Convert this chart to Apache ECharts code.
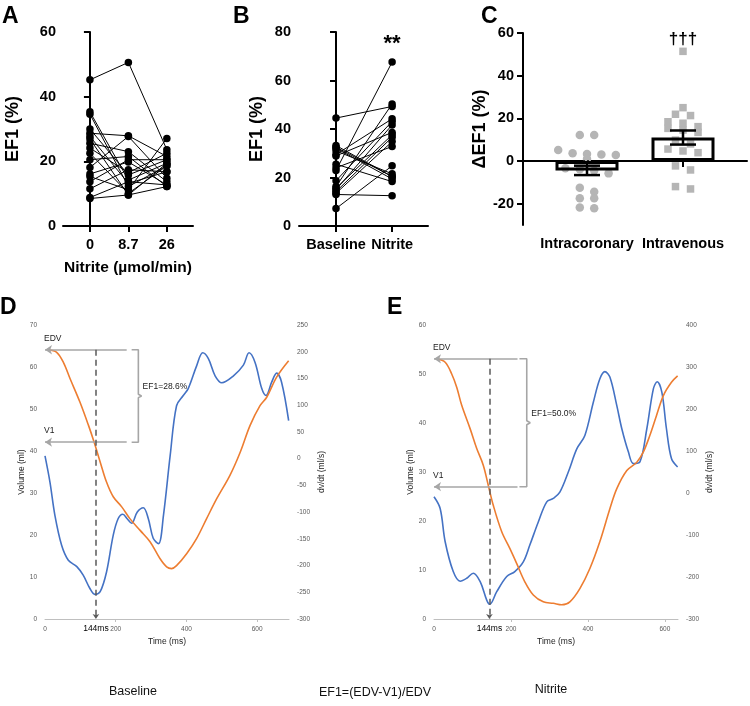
<!DOCTYPE html>
<html><head><meta charset="utf-8">
<script src="https://cdn.jsdelivr.net/npm/echarts@6/dist/echarts.min.js"></script>
<style>html,body{margin:0;padding:0;background:#fff}#c{width:750px;height:706px}</style>
</head><body><div id="c"></div>
<script>
// ---------- Panel A ----------
const doseLabels = ['0', '8.7', '26'];
const efA_dose0  = [45.2, 35.3, 34.6, 30.0, 28.7, 27.7, 26.9, 25.6, 24.1, 22.5, 20.5, 18.1, 16.1, 15.3, 13.7, 11.5, 8.8, 8.5];
const efA_dose87 = [50.6, 14.2, 12.2, 15.8, 27.9, 13.2, 9.6, 23.0, 16.5, 10.1, 21.5, 27.7, 19.8, 11.2, 20.5, 17.4, 13.7, 9.6];
const efA_dose26 = [23.6, 19.4, 18.6, 20.5, 21.5, 16.8, 19.4, 13.7, 22.5, 18.6, 12.2, 14.8, 12.7, 27.1, 20.5, 16.8, 12.7, 12.2];
// ---------- Panel B ----------
const bLabels = ['Baseline', 'Nitrite'];
const efB_base = [44.5, 33.2, 32.1, 31.0, 28.9, 25.5, 22.9, 18.7, 16.3, 15.6, 15.0, 14.2, 13.5, 13.0, 32.5, 29.5, 24.0, 7.2];
const efB_nit  = [49.3, 20.4, 19.4, 21.5, 38.6, 18.3, 67.6, 43.1, 50.3, 37.6, 41.7, 36.6, 34.8, 12.5, 20.4, 44.2, 32.8, 24.8];
const bSignif = '**';
const bSignifY = 75;
// ---------- Panel C ----------
const cLabels = ['Intracoronary', 'Intravenous'];
const dEF_ic = [12.2, 12.2, 5.2, 3.6, 3.3, 3.1, 2.8, 0.9, -3.4, -3.9, -4.5, -5.8, -12.5, -14.4, -17.5, -17.5, -21.8, -22.2];
const dEF_iv = [51.4, 25.0, 21.9, 21.3, 18.4, 17.7, 16.1, 15.3, 14.5, 13.4, 9.8, 8.0, 5.6, 4.7, 3.9, -2.3, -4.2, -12.0, -13.1];
const cMean = [-4.4, 11.0];
const cSem = [2.2, 3.3];
const cSignif = '†††';
const cSignifY = 57;
// ---------- Panel D (Baseline) ----------
const dVolume = [[9,64.1],[33,63.5],[52,61.1],[71,57.2],[99,51.6],[123,46.1],[139,42.1],[156,37.4],[174,32.6],[193,29.1],[217,26.7],[240,23.9],[269,21.1],[297,18.4],[325,14.4],[344,12.4],[358,12.0],[372,12.7],[401,15.6],[429,19.2],[457,23.9],[486,28.7],[523,34.2],[552,39.7],[580,46.1],[608,50.8],[627,52.8],[655,57.6],[689,61.5]];
const dRate = [[0,5],[14,-44],[28,-106],[47,-162],[66,-190],[90,-202],[108,-218],[127,-243],[141,-254],[156,-249],[174,-212],[193,-143],[207,-112],[220,-104],[233,-113],[245,-121],[261,-100],[278,-92],[292,-112],[306,-149],[321,-159],[335,-106],[354,6],[372,99],[391,118],[405,131],[429,174],[446,198],[462,187],[481,155],[500,142],[533,155],[561,175],[577,198],[594,180],[613,131],[625,118],[641,143],[655,160],[669,143],[689,71]];
const dAnnot = {edv: 64.1, v1: 42.1, t: 144, arrowEnd: 231, bracketT: 264, text: 'EF1=28.6%'};
// ---------- Panel E (Nitrite) ----------
const eVolume = [[7,53.1],[29,52.4],[46,50.0],[59,47.3],[72,43.6],[94,38.8],[111,34.8],[128,31.4],[141,27.3],[154,23.2],[176,17.8],[197,14.4],[215,11.3],[236,7.6],[258,4.9],[284,3.5],[310,3.2],[332,2.9],[353,3.5],[379,6.2],[405,10.3],[431,15.8],[457,22.5],[475,26.6],[501,30.3],[527,32.0],[544,34.1],[561,37.5],[578,41.5],[596,45.6],[617,48.3],[633,49.6]];
const eRate = [[0,-9],[16,-37],[29,-116],[50,-187],[68,-210],[85,-203],[102,-191],[120,-211],[137,-255],[145,-265],[163,-235],[189,-199],[210,-187],[232,-164],[249,-124],[271,-69],[293,-21],[310,-13],[327,2],[349,50],[371,105],[392,137],[414,216],[431,272],[444,289],[457,276],[475,208],[488,153],[505,98],[518,70],[535,74],[553,153],[570,248],[580,265],[592,240],[604,153],[617,82],[633,62]];
const eAnnot = {edv: 53.1, v1: 27.0, t: 144, arrowEnd: 217, bracketT: 241, text: 'EF1=50.0%'};

const FF = 'Liberation Sans';
const chart = echarts.init(document.getElementById('c'), null, {renderer: 'canvas'});

const boldAxis = (extra) => Object.assign({
  axisLine: {show: true, lineStyle: {color: '#000', width: 2}},
  axisTick: {show: true, length: 6, lineStyle: {color: '#000', width: 2}},
  axisLabel: {color: '#000', fontFamily: FF, fontWeight: 'bold', fontSize: 14.5},
  splitLine: {show: false},
  nameTextStyle: {color: '#000', fontFamily: FF, fontWeight: 'bold', fontSize: 18}
}, extra);

const thinAxisLabel = {color: '#595959', fontFamily: FF, fontSize: 6.5};

// beeswarm-like symmetric spreading by rows
function swarm(vals, center, rowH, step) {
  const idx = vals.map((v, i) => i).sort((a, b) => vals[b] - vals[a]);
  const out = [];
  let row = [];
  const flush = () => {
    const n = row.length;
    row.forEach((k, j) => out.push([center + (j - (n - 1) / 2) * step, vals[k]]));
    row = [];
  };
  idx.forEach(k => {
    if (row.length && vals[row[0]] - vals[k] > rowH) flush();
    row.push(k);
  });
  flush();
  return out;
}

const series = [];
// Panel A
for (let i = 0; i < efA_dose0.length; i++) {
  series.push({type: 'line', xAxisIndex: 0, yAxisIndex: 0,
    data: [[0, efA_dose0[i]], [1, efA_dose87[i]], [2, efA_dose26[i]]],
    symbol: 'circle', symbolSize: 7.5, itemStyle: {color: '#000'},
    lineStyle: {color: '#000', width: 1}});
}
// Panel B
for (let i = 0; i < efB_base.length; i++) {
  series.push({type: 'line', xAxisIndex: 1, yAxisIndex: 1,
    data: [[0, efB_base[i]], [1, efB_nit[i]]],
    symbol: 'circle', symbolSize: 7.5, itemStyle: {color: '#000'},
    lineStyle: {color: '#000', width: 1}});
}
series.push({type: 'scatter', xAxisIndex: 1, yAxisIndex: 1, data: [[1, bSignifY]], symbolSize: 0,
  itemStyle: {opacity: 1},
  label: {show: true, formatter: bSignif, position: 'inside', color: '#000', textBorderWidth: 0, fontFamily: FF, fontWeight: 'bold', fontSize: 22}});
// Panel C
const cCenters = [2, 5];
series.push({type: 'scatter', xAxisIndex: 2, yAxisIndex: 2, data: swarm(dEF_ic, cCenters[0], 3, 0.45),
  symbol: 'circle', symbolSize: 8.5, itemStyle: {color: '#b5b5b5', opacity: 1}, z: 2,
  markLine: {silent: true, symbol: 'none', data: [{yAxis: 0}], label: {show: false},
    lineStyle: {color: '#000', type: [2, 2], width: 1.5}}});
series.push({type: 'scatter', xAxisIndex: 2, yAxisIndex: 2, data: swarm(dEF_iv, cCenters[1], 3, 0.47),
  symbol: 'rect', symbolSize: 7.5, itemStyle: {color: '#b5b5b5', opacity: 1}, z: 2});
series.push({type: 'bar', xAxisIndex: 2, yAxisIndex: 2, data: cMean.map((m, i) => [cCenters[i], m]),
  barWidth: 63, itemStyle: {color: 'rgba(0,0,0,0)', borderColor: '#000', borderWidth: 3}, z: 3});
series.push({type: 'custom', xAxisIndex: 2, yAxisIndex: 2, z: 4,
  data: cMean.map((m, i) => [cCenters[i], m, cSem[i]]),
  renderItem: (params, api) => {
    const x = api.value(0), m = api.value(1), s = api.value(2);
    const t = api.coord([x, m + s]), b = api.coord([x, m - s]);
    const w = 13, st = {stroke: '#000', lineWidth: 2.5};
    return {type: 'group', children: [
      {type: 'line', shape: {x1: t[0], y1: t[1], x2: b[0], y2: b[1]}, style: st},
      {type: 'line', shape: {x1: t[0] - w, y1: t[1], x2: t[0] + w, y2: t[1]}, style: st},
      {type: 'line', shape: {x1: b[0] - w, y1: b[1], x2: b[0] + w, y2: b[1]}, style: st}
    ]};
  }});
series.push({type: 'scatter', xAxisIndex: 2, yAxisIndex: 2, data: [[cCenters[1], cSignifY]], symbolSize: 0,
  itemStyle: {opacity: 1},
  label: {show: true, formatter: cSignif, position: 'inside', color: '#000', textBorderWidth: 0, fontFamily: FF, fontWeight: 'bold', fontSize: 17}});

// Panels D and E
function wavePanel(xi, yl, yr, vol, rate, an) {
  const gray = '#a6a6a6';
  series.push({type: 'line', xAxisIndex: xi, yAxisIndex: yr, data: rate, smooth: 0.35, symbol: 'none',
    lineStyle: {color: '#4472c4', width: 1.6}, z: 3});
  series.push({type: 'line', xAxisIndex: xi, yAxisIndex: yl, data: vol, smooth: 0.35, symbol: 'none',
    lineStyle: {color: '#ed7d31', width: 1.6}, z: 3,
    markLine: {silent: true, animation: false, symbolSize: 7,
      data: [
        [{coord: [an.arrowEnd, an.edv], symbol: 'none', lineStyle: {color: gray, width: 1.6, type: 'solid'}, label: {show: false}},
         {coord: [0, an.edv], symbol: 'arrow'}],
        [{coord: [an.arrowEnd, an.v1], symbol: 'none', lineStyle: {color: gray, width: 1.6, type: 'solid'}, label: {show: false}},
         {coord: [0, an.v1], symbol: 'arrow'}],
        [{coord: [an.t, an.edv], symbol: 'none', lineStyle: {color: '#595959', width: 1.5, type: [6, 4]},
          label: {show: true, position: 'end', formatter: an.t + 'ms', color: '#000', fontFamily: FF, fontSize: 8.5, distance: 5}},
         {coord: [an.t, 0], symbol: 'arrow', symbolSize: 5}]
      ]}});
  const mid = (an.edv + an.v1) / 2;
  const bx = an.bracketT;
  series.push({type: 'line', xAxisIndex: xi, yAxisIndex: yl, symbol: 'none',
    data: [[bx - 19, an.edv], [bx, an.edv], [bx, mid + 0.4], [bx + 9, mid], [bx, mid - 0.4], [bx, an.v1], [bx - 19, an.v1]],
    lineStyle: {color: gray, width: 1.6}, z: 2});
  series.push({type: 'scatter', xAxisIndex: xi, yAxisIndex: yl, symbolSize: 0, itemStyle: {opacity: 1},
    data: [[bx + 12, mid]],
    label: {show: true, position: 'right', distance: 0, offset: [0, -9], formatter: an.text, color: '#222', fontFamily: FF, fontSize: 8.5}});
  series.push({type: 'scatter', xAxisIndex: xi, yAxisIndex: yl, symbolSize: 0, itemStyle: {opacity: 1},
    data: [{value: [0, an.edv], label: {formatter: 'EDV'}}, {value: [0, an.v1], label: {formatter: 'V1'}}],
    label: {show: true, position: [-1, -16], color: '#222', fontFamily: FF, fontSize: 8.5}});
}
wavePanel(3, 3, 4, dVolume, dRate, dAnnot);
wavePanel(4, 5, 6, eVolume, eRate, eAnnot);

const waveX = (max) => ({type: 'value', min: 0, max: max,
  axisLine: {show: true, lineStyle: {color: '#bfbfbf', width: 1}},
  axisTick: {show: true, length: 3, customValues: [200, 400, 600], lineStyle: {color: '#bfbfbf'}},
  axisLabel: Object.assign({customValues: [0, 200, 400, 600], margin: 7}, thinAxisLabel),
  splitLine: {show: false},
  name: 'Time (ms)', nameLocation: 'middle', nameGap: 18,
  nameTextStyle: {color: '#222', fontFamily: FF, fontSize: 8.5}});
const waveY = (min, max, itv, pos, name, gap) => ({type: 'value', min: min, max: max, interval: itv, position: pos,
  axisLine: {show: false}, axisTick: {show: false}, splitLine: {show: false},
  axisLabel: Object.assign({margin: 8}, thinAxisLabel),
  name: name, nameLocation: 'middle', nameRotate: 90, nameGap: gap,
  nameTextStyle: {color: '#222', fontFamily: FF, fontSize: 8.5}});

const option = {
  animation: false,
  backgroundColor: '#fff',
  grid: [
    {left: 63, top: 32, width: 130, height: 194},
    {left: 299, top: 32, width: 129, height: 194},
    {left: 523, top: 33, width: 224, height: 192},
    {left: 45, top: 325, width: 244, height: 294},
    {left: 434, top: 325, width: 244, height: 294}
  ],
  xAxis: [
    boldAxis({gridIndex: 0, type: 'value', min: -0.7, max: 2.68,
      axisTick: {show: true, length: 6, customValues: [0, 1, 2], lineStyle: {color: '#000', width: 2}},
      axisLabel: {customValues: [0, 1, 2], formatter: v => doseLabels[Math.round(v)], margin: 11, color: '#000', fontFamily: FF, fontWeight: 'bold', fontSize: 14.5},
      name: 'Nitrite (µmol/min)', nameLocation: 'middle', nameGap: 34,
      nameTextStyle: {color: '#000', fontFamily: FF, fontWeight: 'bold', fontSize: 15.5}}),
    boldAxis({gridIndex: 1, type: 'value', min: -0.66, max: 1.64,
      axisTick: {show: true, length: 6, customValues: [0, 1], lineStyle: {color: '#000', width: 2}},
      axisLabel: {customValues: [0, 1], formatter: v => bLabels[Math.round(v)], margin: 11, color: '#000', fontFamily: FF, fontWeight: 'bold', fontSize: 14.5}}),
    boldAxis({gridIndex: 2, type: 'value', min: 0, max: 7,
      axisTick: {show: true, length: 6, customValues: cCenters, lineStyle: {color: '#000', width: 2}},
      axisLabel: {customValues: cCenters, formatter: v => cLabels[cCenters.indexOf(Math.round(v))], margin: 11, color: '#000', fontFamily: FF, fontWeight: 'bold', fontSize: 14.5}}),
    Object.assign(waveX(690), {gridIndex: 3}),
    Object.assign(waveX(634), {gridIndex: 4})
  ],
  yAxis: [
    boldAxis({gridIndex: 0, type: 'value', min: 0, max: 60, interval: 20, name: 'EF1 (%)', nameLocation: 'middle', nameRotate: 90, nameGap: 41,
      axisLabel: {margin: 7, color: '#000', fontFamily: FF, fontWeight: 'bold', fontSize: 14.5}}),
    boldAxis({gridIndex: 1, type: 'value', min: 0, max: 80, interval: 20, name: 'EF1 (%)', nameLocation: 'middle', nameRotate: 90, nameGap: 33,
      axisLabel: {margin: 8, color: '#000', fontFamily: FF, fontWeight: 'bold', fontSize: 14.5}}),
    boldAxis({gridIndex: 2, type: 'value', min: -30, max: 60, name: 'ΔEF1 (%)', nameLocation: 'middle', nameRotate: 90, nameGap: 30,
      axisTick: {show: true, length: 6, customValues: [-20, 0, 20, 40, 60], lineStyle: {color: '#000', width: 2}},
      axisLabel: {customValues: [-20, 0, 20, 40, 60], margin: 9, color: '#000', fontFamily: FF, fontWeight: 'bold', fontSize: 14.5}}),
    Object.assign(waveY(0, 70, 10, 'left', 'Volume (ml)', 14), {gridIndex: 3}),
    Object.assign(waveY(-300, 250, 50, 'right', 'dv/dt (ml/s)', 28), {gridIndex: 3}),
    Object.assign(waveY(0, 60, 10, 'left', 'Volume (ml)', 14), {gridIndex: 4}),
    Object.assign(waveY(-300, 400, 100, 'right', 'dv/dt (ml/s)', 27), {gridIndex: 4})
  ],
  graphic: [
    {type: 'text', x: 2, y: 5, style: {text: 'A', font: 'bold 23px "Liberation Sans"', fill: '#000'}},
    {type: 'text', x: 233, y: 5, style: {text: 'B', font: 'bold 23px "Liberation Sans"', fill: '#000'}},
    {type: 'text', x: 481, y: 5, style: {text: 'C', font: 'bold 23px "Liberation Sans"', fill: '#000'}},
    {type: 'text', x: 0, y: 296, style: {text: 'D', font: 'bold 23px "Liberation Sans"', fill: '#000'}},
    {type: 'text', x: 387, y: 296, style: {text: 'E', font: 'bold 23px "Liberation Sans"', fill: '#000'}},
    {type: 'text', x: 133, y: 692, style: {text: 'Baseline', font: '12.5px "Liberation Sans"', fill: '#111', textAlign: 'center', textVerticalAlign: 'middle'}},
    {type: 'text', x: 375, y: 693, style: {text: 'EF1=(EDV-V1)/EDV', font: '12.5px "Liberation Sans"', fill: '#111', textAlign: 'center', textVerticalAlign: 'middle'}},
    {type: 'text', x: 551, y: 690, style: {text: 'Nitrite', font: '12.5px "Liberation Sans"', fill: '#111', textAlign: 'center', textVerticalAlign: 'middle'}}
  ],
  series: series
};
chart.setOption(option);
</script>
</body></html>
